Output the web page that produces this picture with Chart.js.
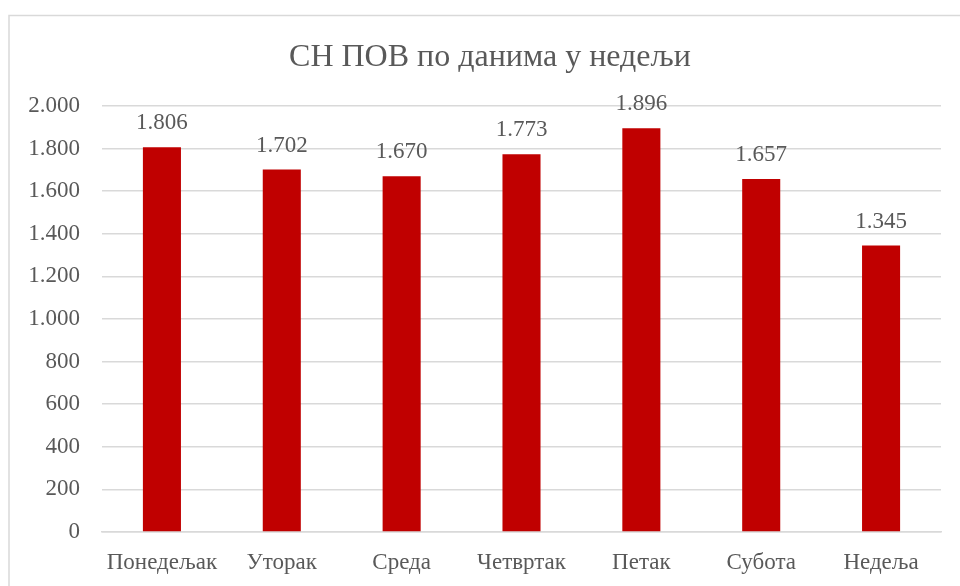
<!DOCTYPE html>
<html>
<head>
<meta charset="utf-8">
<script src="https://cdn.jsdelivr.net/npm/chart.js@4.4.1/dist/chart.umd.min.js"></script>
<style>
    html, body { margin: 0; padding: 0; background: #ffffff; }
    #wrap { width: 960px; height: 586px; position: relative; }
</style>
</head>
<body>
<div id="wrap"><canvas id="daysChart" width="960" height="586"></canvas></div>
<script>
// Podaci
const dani = ['Понедељак', 'Уторак', 'Среда', 'Четвртак', 'Петак', 'Субота', 'Недеља'];
const vrednosti = [1806, 1702, 1670, 1773, 1896, 1657, 1345];
const naslov = 'СН ПОВ по данима у недељи';

const textColor = '#595959';
const fontFamily = "'Liberation Serif', 'Times New Roman', serif";

// Format sa tackom za hiljade
const formatBroj = (n) => String(n).replace(/\B(?=(\d{3})+(?!\d))/g, '.');

// Okvir i naslov grafikona
const okvir = {
    id: 'okvir',
    beforeDraw(chart) {
        const ctx = chart.ctx;
        ctx.save();
        ctx.strokeStyle = '#d9d9d9';
        ctx.lineWidth = 1.5;
        ctx.strokeRect(9, 15.5, 1000, 620);
        ctx.fillStyle = textColor;
        ctx.font = '32px ' + fontFamily;
        ctx.textAlign = 'center';
        ctx.textBaseline = 'middle';
        ctx.fillText(naslov, 490, 58);
        ctx.restore();
    }
};

// Oznake vrednosti iznad stubova
const oznake = {
    id: 'oznake',
    afterDatasetsDraw(chart) {
        const ctx = chart.ctx;
        const meta = chart.getDatasetMeta(0);
        ctx.save();
        ctx.fillStyle = textColor;
        ctx.font = '23px ' + fontFamily;
        ctx.textAlign = 'center';
        ctx.textBaseline = 'middle';
        meta.data.forEach((bar, i) => {
            ctx.fillText(formatBroj(vrednosti[i]), bar.x, bar.y - 24);
        });
        ctx.restore();
    }
};

const ctx = document.getElementById('daysChart');

new Chart(ctx, {
    type: 'bar',
    data: {
        labels: dani,
        datasets: [{
            data: vrednosti,
            backgroundColor: '#C00000',
            borderWidth: 0,
            barPercentage: 0.635,
            categoryPercentage: 0.5
        }]
    },
    options: {
        responsive: false,
        animation: false,
        layout: { padding: { left: 0, right: 19, top: 106, bottom: 0 } },
        plugins: {
            legend: { display: false },
            tooltip: { enabled: false },
            title: { display: false }
        },
        scales: {
            x: {
                grid: { display: false, drawTicks: false },
                border: { color: '#d9d9d9', width: 1.5 },
                ticks: {
                    color: textColor,
                    font: { family: fontFamily, size: 23 },
                    padding: 17,
                    maxRotation: 0
                },
                afterFit: (scale) => { scale.height = 54; }
            },
            y: {
                min: 0,
                max: 2000,
                grid: { color: '#d9d9d9', lineWidth: 1.5, drawTicks: false },
                border: { display: false },
                ticks: {
                    stepSize: 200,
                    color: textColor,
                    font: { family: fontFamily, size: 23 },
                    padding: 22,
                    callback: (v) => formatBroj(v)
                },
                afterFit: (scale) => { scale.width = 102; }
            }
        }
    },
    plugins: [okvir, oznake]
});
</script>
</body>
</html>
